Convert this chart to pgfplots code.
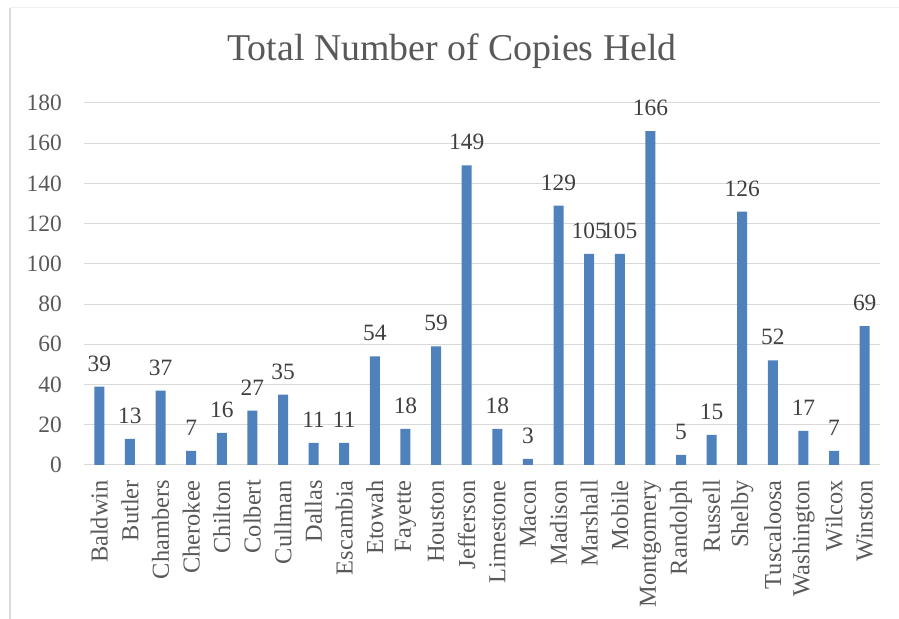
\documentclass[border=0pt]{standalone}
\usepackage{fontspec}
\setmainfont{Liberation Serif}
\usepackage{pgfplots}
\pgfplotsset{compat=1.18}
\definecolor{barblue}{HTML}{4F81BD}
\definecolor{gridgray}{HTML}{D9D9D9}
\definecolor{txtgray}{HTML}{595959}
\definecolor{lblgray}{HTML}{404040}
\begin{document}
\begin{tikzpicture}[x=1bp,y=1bp]
\useasboundingbox (0,0) rectangle (899,619);
\fill[white] (0,0) rectangle (899,619);
\draw[gridgray, line width=1.5bp] (10,0) -- (10,611);
\draw[black!6, line width=1bp] (10,611) -- (899,611);
\node[anchor=base, text=txtgray, font=\fontsize{38}{44}\selectfont] at (452,558) {Total Number of Copies Held};
\begin{axis}[
    at={(84bp,154bp)}, anchor=south west,
    scale only axis, width=796bp, height=362bp,
    xmin=-0.5, xmax=25.5, ymin=0, ymax=180,
    ytick={0,20,...,180},
    xtick={0,...,25},
    xticklabels={Baldwin,Butler,Chambers,Cherokee,Chilton,Colbert,Cullman,Dallas,Escambia,Etowah,Fayette,Houston,Jefferson,Limestone,Macon,Madison,Marshall,Mobile,Montgomery,Randolph,Russell,Shelby,Tuscaloosa,Washington,Wilcox,Winston},
    ymajorgrids, grid style={gridgray, line width=1bp},
    axis line style={draw=none},
    major tick length=0pt,
    /pgf/number format/assume math mode=true,
    ticklabel style={text=txtgray, inner sep=0pt},
    xticklabel style={rotate=90, anchor=east, font=\fontsize{24.5}{28}\selectfont},
    yticklabel style={anchor=east, font=\fontsize{23.5}{27}\selectfont},
    xticklabel shift=15bp,
    yticklabel shift=22bp,
]
\addplot[ybar, fill=barblue, draw=none, bar width=10bp,
    nodes near coords,
    nodes near coords style={text=lblgray, font=\fontsize{23.5}{27}\selectfont, anchor=south, inner sep=0pt, yshift=15bp}]
    coordinates {
        (0,39) (1,13) (2,37) (3,7) (4,16) (5,27) (6,35) (7,11) (8,11)
        (9,54) (10,18) (11,59) (12,149) (13,18) (14,3) (15,129) (16,105)
        (17,105) (18,166) (19,5) (20,15) (21,126) (22,52) (23,17) (24,7) (25,69)
    };
\end{axis}
\end{tikzpicture}
\end{document}
